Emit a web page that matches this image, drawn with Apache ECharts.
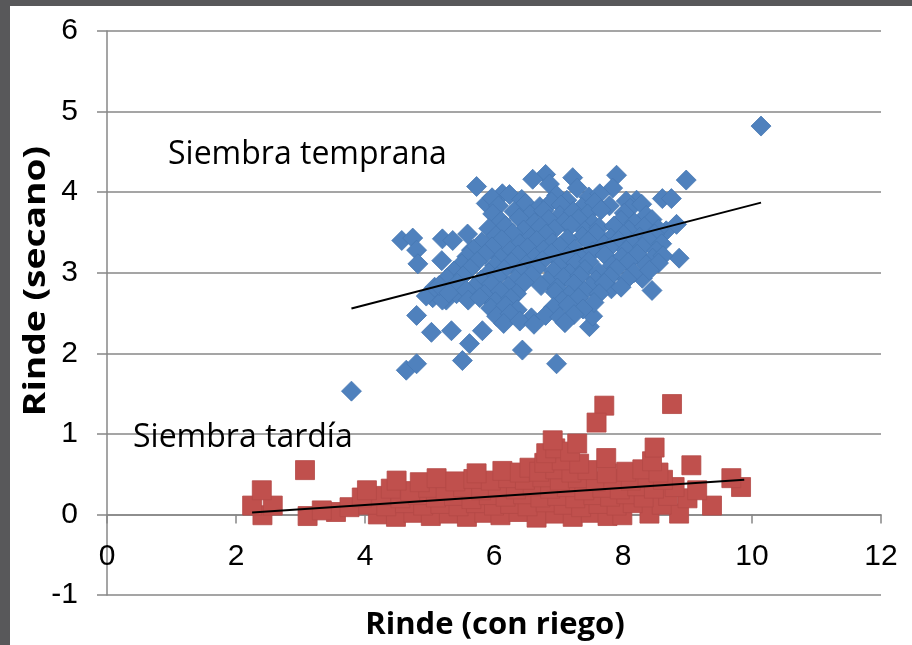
<!DOCTYPE html>
<html>
<head>
<meta charset="utf-8">
<title>Rinde con riego vs secano</title>
<script src="https://cdn.jsdelivr.net/npm/echarts@6/dist/echarts.min.js"></script>
<style>
  html, body { margin: 0; padding: 0; background: #58585a; }
  #sheet { position: absolute; left: 10px; top: 6px; width: 902px; height: 639px; background: #ffffff; }
  #chart { position: absolute; left: 0; top: 0; width: 912px; height: 645px; }
</style>
</head>
<body>
<div id="sheet"></div>
<div id="chart"></div>
<script>
// Axis ranges and ticks
const xTicks = [0, 2, 4, 6, 8, 10, 12];
const yTicks = [-1, 0, 1, 2, 3, 4, 5, 6];

// Early sowing: [yield with irrigation, rainfed yield]
const tempranaPoints = [
  [10.14,4.82],[3.79,1.53],[4.64,1.79],[4.80,1.87],[5.51,1.91],[5.62,2.12],[6.44,2.04],[6.97,1.87],
  [4.80,2.47],[5.03,2.26],[5.34,2.28],[5.82,2.28],[5.05,2.69],[5.26,2.66],[4.95,2.71],
  [7.48,2.33],[7.53,2.46],[8.45,2.78],[8.30,2.93],[7.82,2.80],
  [8.87,3.18],[8.67,3.52],[8.83,3.60],[8.61,3.92],[8.75,3.92],[8.21,3.90],[8.98,4.15],
  [7.90,4.21],[7.84,4.05],[7.22,4.18],[7.29,4.05],[6.80,4.22],[6.86,4.10],[6.60,4.16],
  [5.73,4.07],[6.13,3.98],[5.88,3.86],
  [4.57,3.40],[4.74,3.43],[4.80,3.28],[4.82,3.11],[5.20,3.42],[5.36,3.40],[5.59,3.48],[5.65,3.28],
  [5.19,3.15],[5.08,2.82],[5.20,2.66],[5.42,2.74],
  [5.97,3.93],[6.24,3.97],[6.43,3.91],[6.97,3.96],[7.13,3.90],[7.47,3.94],[7.64,3.98],[8.05,3.89],
  [6.07,3.83],[6.49,3.86],[6.71,3.82],[6.89,3.88],[7.04,3.84],[7.36,3.81],[7.56,3.87],[7.79,3.83],[8.11,3.80],[8.29,3.85],
  [5.98,3.73],[6.31,3.76],[6.56,3.72],[6.77,3.77],[7.02,3.71],[7.23,3.76],[7.45,3.73],[7.66,3.78],[8.02,3.74],[8.36,3.71],
  [6.11,3.64],[6.39,3.68],[6.63,3.62],[6.85,3.66],[7.09,3.63],[7.31,3.67],[7.53,3.61],[7.97,3.65],[8.18,3.62],[8.45,3.66],
  [5.92,3.55],[6.18,3.58],[6.46,3.53],[6.72,3.57],[6.94,3.54],[7.19,3.59],[7.41,3.52],[7.63,3.56],[7.86,3.58],[8.09,3.53],[8.33,3.57],[8.55,3.54],
  [6.03,3.46],[6.29,3.49],[6.57,3.44],[6.81,3.48],[7.37,3.45],[7.58,3.49],[7.81,3.43],[8.01,3.47],[8.26,3.44],[8.49,3.48],
  [5.81,3.38],[6.12,3.41],[6.40,3.36],[6.66,3.40],[6.91,3.37],[7.14,3.42],[7.46,3.39],[7.71,3.35],[7.93,3.40],[8.15,3.37],[8.39,3.41],[8.60,3.36],
  [5.68,3.29],[5.97,3.32],[6.25,3.27],[6.52,3.31],[6.77,3.28],[7.02,3.33],[7.25,3.29],[7.53,3.26],[7.79,3.31],[8.05,3.28],[8.30,3.32],[8.52,3.27],
  [5.58,3.20],[5.86,3.23],[6.10,3.18],[6.37,3.22],[6.63,3.19],[6.89,3.24],[7.14,3.20],[7.36,3.17],[7.72,3.22],[7.98,3.19],[8.22,3.23],[8.46,3.18],[8.62,3.21],
  [5.50,3.11],[5.74,3.14],[6.01,3.09],[6.27,3.13],[6.50,3.10],[6.75,3.15],[7.00,3.08],[7.27,3.12],[7.47,3.14],[7.83,3.09],[8.08,3.13],[8.36,3.10],[8.55,3.12],
  [5.38,3.02],[5.63,3.05],[5.92,3.00],[6.16,3.04],[6.42,3.01],[6.66,3.06],[6.92,3.02],[7.17,2.99],[7.41,3.04],[7.62,3.01],[7.90,3.05],[8.17,3.00],[8.41,3.03],
  [5.27,2.93],[5.52,2.96],[5.80,2.91],[6.05,2.95],[6.33,2.92],[6.58,2.97],[6.83,2.90],[7.08,2.94],[7.33,2.96],[7.58,2.91],[7.80,2.95],[8.06,2.92],
  [5.15,2.84],[5.43,2.87],[5.69,2.82],[5.96,2.86],[6.22,2.83],[6.47,2.88],[6.73,2.84],[6.98,2.81],[7.24,2.86],[7.49,2.83],[7.71,2.87],[7.97,2.82],
  [5.30,2.75],[5.57,2.78],[5.85,2.73],[6.10,2.77],[6.35,2.74],[6.95,2.76],[7.16,2.72],[7.40,2.77],[7.63,2.74],
  [5.60,2.66],[5.78,2.69],[6.02,2.64],[6.26,2.68],[7.06,2.65],[7.31,2.69],[7.55,2.63],
  [5.95,2.56],[6.18,2.59],[6.36,2.54],[6.92,2.57],[7.15,2.60],[7.38,2.55],
  [6.04,2.46],[6.25,2.49],[6.58,2.44],[6.80,2.47],[7.02,2.45],[7.24,2.48],
  [6.15,2.37],[6.40,2.40],[6.62,2.36],[7.10,2.38]
];

// Late sowing: [yield with irrigation, rainfed yield]
const tardiaPoints = [
  [2.41,-0.01],[3.11,-0.02],[3.55,0.03],[4.20,0.00],[4.48,-0.03],[4.75,0.02],[5.02,-0.02],[5.30,0.01],[5.58,-0.03],[5.85,0.02],
  [6.10,-0.01],[6.38,0.03],[6.66,-0.04],[6.95,0.01],[7.22,-0.03],[7.50,0.02],[7.76,-0.02],[7.99,-0.01],[8.41,0.01],[8.87,0.01],
  [2.25,0.11],[2.57,0.11],[3.33,0.05],[3.76,0.09],[4.05,0.12],[4.33,0.10],[4.62,0.14],[4.90,0.11],[5.17,0.13],[5.45,0.10],[5.72,0.14],
  [6.00,0.11],[6.25,0.13],[6.52,0.10],[6.80,0.15],[7.08,0.12],[7.35,0.09],[7.62,0.13],[7.90,0.11],[8.15,0.14],[8.60,0.12],[9.38,0.11],
  [3.95,0.21],[4.25,0.23],[4.55,0.20],[4.82,0.24],[5.10,0.21],[5.38,0.23],[5.65,0.19],[5.92,0.24],[6.18,0.22],[6.45,0.25],
  [6.72,0.21],[6.98,0.23],[7.26,0.20],[7.54,0.24],[7.80,0.22],[8.05,0.25],[8.32,0.21],[8.70,0.23],[9.00,0.20],
  [2.40,0.30],[4.03,0.30],[4.40,0.32],[4.70,0.29],[4.98,0.33],[5.25,0.31],[5.52,0.34],[5.80,0.30],[6.06,0.33],[6.34,0.31],[6.60,0.35],
  [6.87,0.32],[7.13,0.34],[7.40,0.30],[7.68,0.33],[7.95,0.31],[8.22,0.35],[8.48,0.32],[8.80,0.34],[9.15,0.30],[9.83,0.34],
  [4.49,0.42],[4.85,0.40],[5.11,0.45],[5.40,0.41],[5.68,0.44],[5.95,0.42],[6.22,0.45],[6.48,0.43],[6.75,0.46],[7.02,0.42],
  [7.30,0.45],[7.58,0.41],[7.85,0.44],[8.12,0.42],[8.38,0.46],[8.62,0.43],[9.68,0.45],
  [3.07,0.55],[5.73,0.51],[6.13,0.54],[6.40,0.52],[6.55,0.58],[6.70,0.53],[6.95,0.56],[7.20,0.52],[7.45,0.55],[7.75,0.51],
  [8.05,0.53],[8.30,0.56],[8.55,0.52],[9.06,0.61],
  [6.78,0.64],[7.05,0.67],[7.32,0.63],[7.74,0.70],[8.45,0.66],
  [6.81,0.76],[6.95,0.82],[7.18,0.78],[8.49,0.83],
  [6.91,0.92],[7.29,0.88],
  [7.71,1.35],[7.59,1.14],[8.76,1.37]
];

// Linear trend lines (end points at the extreme irrigated yields)
const tempranaTrend = [[3.79, 2.556], [10.14, 3.87]];
const tardiaTrend = [[2.25, 0.025], [9.88, 0.43]];

const labelFont = '"Liberation Sans Narrow", "Liberation Sans", sans-serif';
const textFont = '"Open Sans", "Liberation Sans", sans-serif';
const axisGrey = '#878787';

// Plot box in pixels; the horizontal axis sits on the zero line of the vertical axis
const plot = { left: 107, right: 31, top: 31, bottom: 50 };
const plotHeight = 645 - plot.top - plot.bottom;
const yMin = yTicks[0], yMax = yTicks[yTicks.length - 1];
const xAxisLift = (0 - yMin) / (yMax - yMin) * plotHeight;

const chart = echarts.init(document.getElementById('chart'), null, { renderer: 'canvas' });

chart.setOption({
  animation: false,
  backgroundColor: 'transparent',
  grid: Object.assign({ containLabel: false, outerBoundsMode: 'none' }, plot),
  xAxis: {
    type: 'value',
    min: xTicks[0],
    max: xTicks[xTicks.length - 1],
    interval: xTicks[1] - xTicks[0],
    position: 'bottom',
    offset: -xAxisLift,
    axisLine: { show: true, onZero: false, lineStyle: { color: axisGrey, width: 1.5 } },
    axisTick: { show: true, inside: false, length: 9, lineStyle: { color: axisGrey, width: 1.5 } },
    axisLabel: { margin: 27, color: '#000', fontFamily: labelFont, fontSize: 30 },
    splitLine: { show: false }
  },
  yAxis: {
    type: 'value',
    min: yMin,
    max: yMax,
    interval: yTicks[1] - yTicks[0],
    axisLine: { show: true, onZero: false, lineStyle: { color: axisGrey, width: 1.5 } },
    axisTick: { show: true, inside: false, length: 10, lineStyle: { color: axisGrey, width: 1.5 } },
    axisLabel: { margin: 29, color: '#000', fontFamily: labelFont, fontSize: 30 },
    splitLine: { show: true, lineStyle: { color: axisGrey, width: 1.5 } }
  },
  series: [
    {
      name: 'Siembra temprana',
      type: 'scatter',
      symbol: 'diamond',
      symbolSize: 20,
      silent: true,
      itemStyle: { color: '#4f81bd', borderColor: '#4677b3', borderWidth: 0.8, opacity: 1 },
      data: tempranaPoints,
      z: 2
    },
    {
      name: 'Siembra tardía',
      type: 'scatter',
      symbol: 'rect',
      symbolSize: 19,
      silent: true,
      itemStyle: { color: '#c0504d', borderColor: '#b44946', borderWidth: 0.8, opacity: 1 },
      data: tardiaPoints,
      z: 2
    },
    {
      type: 'line',
      data: tempranaTrend,
      symbol: 'none',
      silent: true,
      lineStyle: { color: '#000', width: 2 },
      z: 5
    },
    {
      type: 'line',
      data: tardiaTrend,
      symbol: 'none',
      silent: true,
      lineStyle: { color: '#000', width: 2 },
      z: 5
    }
  ],
  graphic: [
    {
      type: 'text', x: 168, y: 155, z: 10,
      style: { text: 'Siembra temprana', fill: '#000', font: '32px ' + textFont, align: 'left', verticalAlign: 'middle' }
    },
    {
      type: 'text', x: 133, y: 438, z: 10,
      style: { text: 'Siembra tardía', fill: '#000', font: '32px ' + textFont, align: 'left', verticalAlign: 'middle' }
    },
    {
      type: 'text', x: 495, y: 625, z: 10,
      style: { text: 'Rinde (con riego)', fill: '#000', font: 'bold 31px ' + textFont, align: 'center', verticalAlign: 'middle' }
    },
    {
      type: 'text', x: 36, y: 281, z: 10, rotation: Math.PI / 2, scaleX: 1.2,
      style: { text: 'Rinde (secano)', fill: '#000', font: 'bold 31px ' + textFont, align: 'center', verticalAlign: 'middle' }
    }
  ]
});
</script>
</body>
</html>
